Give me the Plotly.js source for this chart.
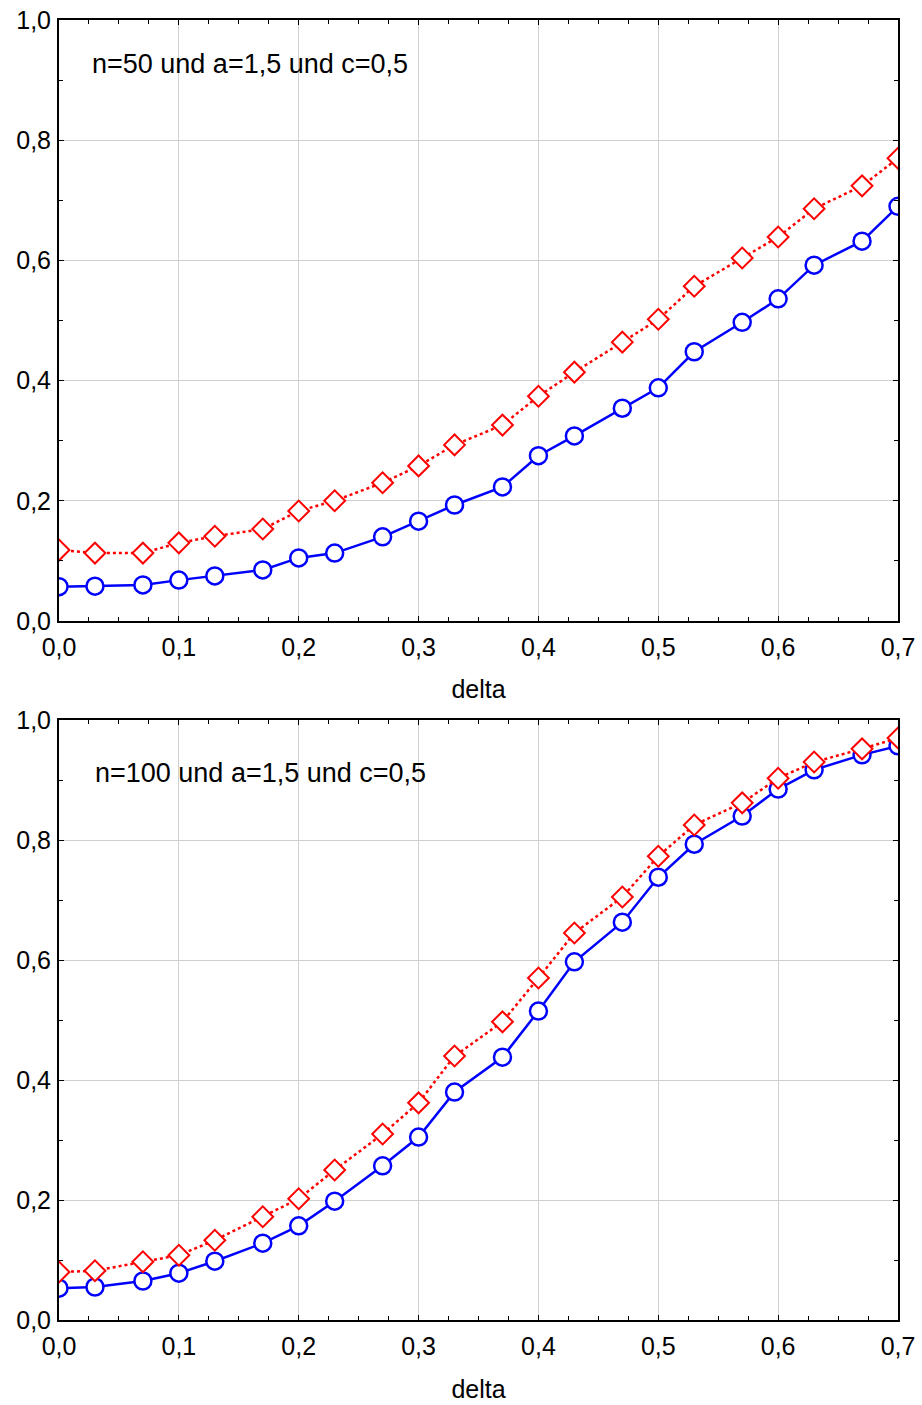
<!DOCTYPE html>
<html><head><meta charset="utf-8">
<script src="https://cdn.plot.ly/plotly-3.0.1.min.js"></script>
<style>html,body{margin:0;padding:0;background:#fff}</style>
</head><body><div id="chart" style="width:922px;height:1405px"></div>
<script>
const delta = [0, 0.03, 0.07, 0.1, 0.13, 0.17, 0.2, 0.23, 0.27, 0.3, 0.33, 0.37, 0.4, 0.43, 0.47, 0.5, 0.53, 0.57, 0.6, 0.63, 0.67, 0.7];
const blue50 = [0.057, 0.058, 0.060, 0.068, 0.075, 0.085, 0.105, 0.113, 0.140, 0.166, 0.193, 0.223, 0.275, 0.308, 0.354, 0.388, 0.448, 0.497, 0.536, 0.592, 0.632, 0.690];
const red50 = [0.118, 0.113, 0.113, 0.130, 0.141, 0.153, 0.183, 0.200, 0.230, 0.258, 0.293, 0.326, 0.374, 0.414, 0.464, 0.502, 0.557, 0.604, 0.639, 0.686, 0.724, 0.770];
const blue100 = [0.053, 0.055, 0.065, 0.078, 0.098, 0.128, 0.157, 0.198, 0.257, 0.305, 0.380, 0.438, 0.515, 0.597, 0.663, 0.738, 0.793, 0.840, 0.885, 0.917, 0.942, 0.957];
const red100 = [0.080, 0.082, 0.097, 0.108, 0.133, 0.172, 0.202, 0.250, 0.310, 0.362, 0.440, 0.497, 0.570, 0.645, 0.705, 0.773, 0.825, 0.862, 0.903, 0.930, 0.952, 0.970];
const label50 = "n=50 und a=1,5 und c=0,5";
const label100 = "n=100 und a=1,5 und c=0,5";
const xTitle = "delta";

function blueTrace(y, xa, ya){
  return {x: delta, y: y, xaxis: xa, yaxis: ya, mode: 'lines+markers', type: 'scatter',
    line: {color: '#0000ff', width: 2.5},
    marker: {symbol: 'circle', size: 17, color: '#ffffff', line: {color: '#0000ff', width: 2.5}},
    showlegend: false};
}
function redTrace(y, xa, ya){
  return {x: delta, y: y, xaxis: xa, yaxis: ya, mode: 'lines+markers', type: 'scatter',
    line: {color: '#ff0000', width: 2.5, dash: 'dot'},
    marker: {symbol: 'diamond', size: 16, color: '#ffffff', line: {color: '#ff0000', width: 2}},
    showlegend: false};
}
const font = {family: 'Liberation Sans, Arial, sans-serif', size: 25, color: '#000'};
const annFont = {family: 'Liberation Sans, Arial, sans-serif', size: 27, color: '#000'};
function xax(anchor){
  return {anchor: anchor, range: [0, 0.7], dtick: 0.1, tick0: 0, tickformat: '.1f',
    ticks: 'inside', ticklen: 5, tickwidth: 1, tickcolor: '#000',
    minor: {dtick: 0.025, ticks: 'inside', ticklen: 4, tickcolor: '#000', showgrid: false},
    showgrid: true, gridcolor: '#d0d0d0', gridwidth: 1,
    showline: true, linecolor: '#000', linewidth: 2, mirror: 'ticks', zeroline: false,
    ticklabelstandoff: 3,
    tickfont: font, title: {text: xTitle, font: font, standoff: 21}, fixedrange: true};
}
function yax(anchor, domain){
  return {anchor: anchor, domain: domain, range: [0, 1.0], dtick: 0.2, tick0: 0, tickformat: '.1f',
    ticks: 'inside', ticklen: 5, tickwidth: 1, tickcolor: '#000',
    minor: {dtick: 0.1, ticks: 'inside', ticklen: 4, tickcolor: '#000', showgrid: false},
    showgrid: true, gridcolor: '#d0d0d0', gridwidth: 1,
    showline: true, linecolor: '#000', linewidth: 2, mirror: 'ticks', zeroline: false,
    ticklabelstandoff: 1,
    tickfont: font, fixedrange: true};
}
const data = [blueTrace(blue50,'x','y'), redTrace(red50,'x','y'), blueTrace(blue100,'x2','y2'), redTrace(red100,'x2','y2')];
const layout = {
  width: 922, height: 1405, separators: ',.',
  margin: {l: 59, r: 24, t: 20, b: 85},
  paper_bgcolor: '#fff', plot_bgcolor: '#fff', font: font,
  xaxis: xax('y'), yaxis: yax('x', [0.5377, 1]),
  xaxis2: xax('y2'), yaxis2: yax('x2', [0, 0.4615]),
  annotations: [
    {text: label50, xref: 'x', yref: 'y', x: 0.026, y: 0.927, xanchor: 'left', yanchor: 'middle', showarrow: false, font: annFont},
    {text: label100, xref: 'x2', yref: 'y2', x: 0.028, y: 0.912, xanchor: 'left', yanchor: 'middle', showarrow: false, font: annFont}
  ]
};
Plotly.newPlot('chart', data, layout, {displayModeBar: false, staticPlot: true});
</script></body></html>
